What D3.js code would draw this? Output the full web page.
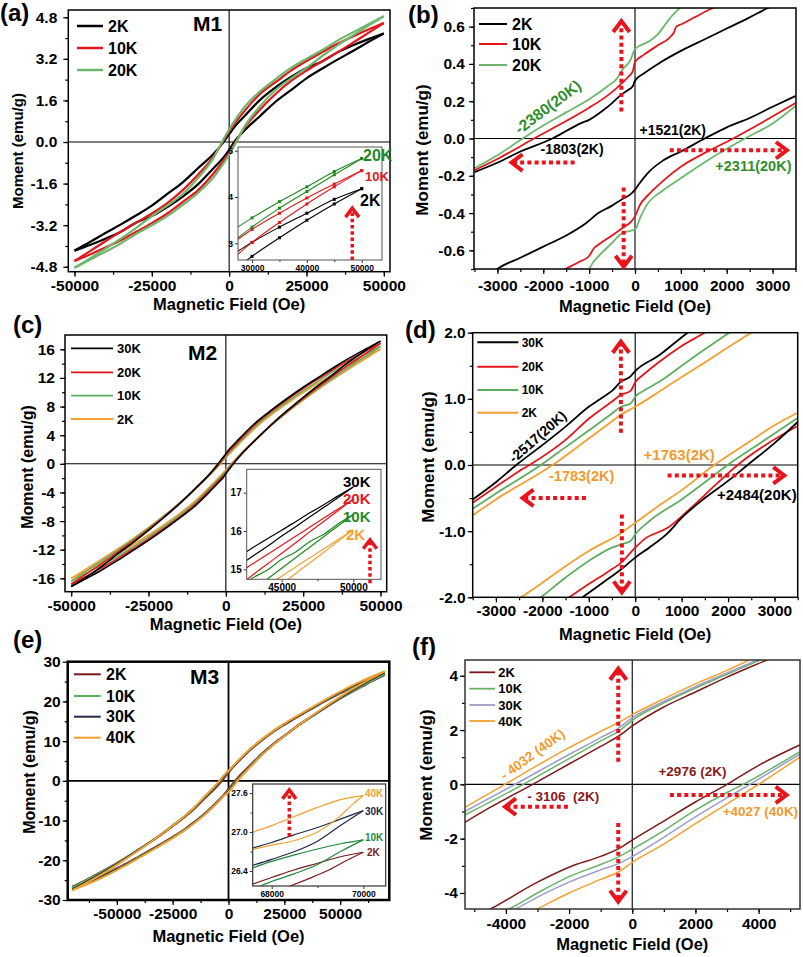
<!DOCTYPE html>
<html><head><meta charset="utf-8">
<script src="https://cdn.jsdelivr.net/npm/d3@7"></script>
<style>
body{margin:0;background:#fff;}
svg text{font-family:"Liberation Sans",Arial,Helvetica,sans-serif;font-weight:bold;white-space:pre;}
</style></head><body>
<script>
// ================= DATA =================
// ---- (a) M1 full loops: field grid + upper (descending) / lower (ascending) branches
const aH = [-50000,-45000,-40000,-35000,-30000,-25000,-20000,-15000,-10000,-5000,-2000,0,2000,5000,10000,15000,20000,25000,30000,35000,40000,45000,50000];
const a2K_up  = [-4.18,-3.85,-3.5,-3.17,-2.82,-2.45,-2.0,-1.55,-1.0,-0.45,-0.03,0.30,0.62,1.0,1.62,2.1,2.5,2.85,3.1,3.45,3.72,3.96,4.18];
const a2K_lo  = [-4.18,-3.96,-3.72,-3.45,-3.1,-2.85,-2.5,-2.1,-1.62,-1.0,-0.62,-0.30,0.06,0.45,1.0,1.55,2.0,2.45,2.82,3.17,3.5,3.85,4.18];
const a10K_up = [-4.58,-4.2,-3.82,-3.45,-3.1,-2.75,-2.35,-1.85,-1.25,-0.55,0.02,0.42,0.75,1.2,1.85,2.3,2.75,3.12,3.45,3.78,4.06,4.33,4.58];
const a10K_lo = [-4.58,-4.33,-4.06,-3.78,-3.45,-3.12,-2.75,-2.3,-1.85,-1.2,-0.75,-0.42,-0.02,0.55,1.25,1.85,2.35,2.75,3.1,3.45,3.82,4.2,4.58];
const a20K_up = [-4.84,-4.48,-4.1,-3.72,-3.3,-2.85,-2.45,-2.0,-1.38,-0.6,0.07,0.48,0.85,1.35,1.95,2.42,2.85,3.2,3.53,3.9,4.22,4.53,4.84];
const a20K_lo = [-4.84,-4.53,-4.22,-3.9,-3.53,-3.2,-2.85,-2.42,-1.95,-1.35,-0.85,-0.49,-0.07,0.6,1.38,2.0,2.45,2.85,3.3,3.72,4.1,4.48,4.84];
const aNames = ['2K','10K','20K'];
const aXTicks = [-50000,-25000,0,25000,50000];
const aYTicks = [-4.8,-3.2,-1.6,0,1.6,3.2,4.8];
// (a) inset
const aInH = [27000,30000,35000,40000,45000,50000];
const aIn2K_up  = [2.8,3.02,3.35,3.65,3.95,4.18];
const aIn2K_lo  = [2.45,2.72,3.12,3.5,3.85,4.18];
const aIn10K_up = [3.05,3.3,3.65,3.98,4.28,4.57];
const aIn10K_lo = [2.72,3.02,3.45,3.85,4.22,4.57];
const aIn20K_up = [3.32,3.55,3.9,4.22,4.55,4.83];
const aIn20K_lo = [3.08,3.35,3.76,4.12,4.48,4.83];
const aInXTicks = [30000,40000,50000];
const aInYTicks = [3,4,5];

// ---- (b) M1 low-field zoom: [field, moment]
const b2K_up = [[-3500,-0.18],[-3000,-0.13],[-2500,-0.07],[-1803,0],[-1500,0.04],[-1200,0.08],[-1000,0.1],[-700,0.15],[-500,0.19],[-300,0.235],[-150,0.26],[-50,0.28],[0,0.31],[200,0.35],[500,0.4],[1000,0.47],[1500,0.53],[2000,0.59],[2500,0.65],[2900,0.7],[3100,0.72]];
const b2K_lo = [[-3100,-0.72],[-3000,-0.7],[-2500,-0.64],[-2000,-0.58],[-1500,-0.52],[-1062,-0.453],[-800,-0.4],[-500,-0.36],[-273,-0.324],[-100,-0.3],[0,-0.274],[100,-0.24],[284,-0.184],[600,-0.12],[1013,-0.068],[1521,0],[2000,0.06],[2500,0.11],[3000,0.17],[3500,0.228]];
const b10K_up = [[-3500,-0.17],[-3000,-0.11],[-2200,0],[-1600,0.08],[-1000,0.165],[-600,0.23],[-400,0.27],[-273,0.3],[-150,0.33],[-50,0.36],[0,0.41],[200,0.45],[500,0.5],[750,0.54],[850,0.57],[900,0.6],[1013,0.613],[1300,0.65],[1700,0.7],[1800,0.71]];
const b10K_lo = [[-1600,-0.71],[-1520,-0.7],[-1200,-0.66],[-1000,-0.63],[-900,-0.59],[-800,-0.57],[-500,-0.52],[-273,-0.48],[-100,-0.45],[0,-0.418],[100,-0.36],[300,-0.3],[600,-0.23],[1013,-0.149],[1500,-0.08],[2140,0],[2800,0.09],[3500,0.19]];
const b20K_up = [[-3500,-0.16],[-3000,-0.09],[-2450,0],[-2000,0.07],[-1500,0.14],[-1000,0.21],[-600,0.28],[-400,0.32],[-273,0.37],[-100,0.42],[0,0.48],[300,0.52],[500,0.56],[685,0.62],[850,0.67],[976,0.7],[1050,0.72]];
const b20K_lo = [[-1080,-0.72],[-1004,-0.7],[-900,-0.66],[-790,-0.63],[-500,-0.56],[-273,-0.506],[-100,-0.495],[0,-0.489],[120,-0.42],[247,-0.36],[600,-0.28],[1013,-0.211],[1500,-0.13],[2395,0],[3000,0.08],[3500,0.174]];
const bXTicks = [-3000,-2000,-1000,0,1000,2000,3000];
const bYTicks = [-0.6,-0.4,-0.2,0,0.2,0.4,0.6];

// ---- (c) M2 full loops
const cH = [-50000,-45000,-40000,-35000,-30000,-25000,-20000,-15000,-10000,-5000,-2000,-1000,0,1000,2000,5000,10000,15000,20000,25000,30000,35000,40000,45000,50000];
const c30K_up = [-17.15,-15.8,-14.3,-12.6,-11.0,-9.3,-7.5,-5.6,-3.5,-1.3,0.3,0.85,1.42,2.0,2.45,3.8,5.9,7.6,9.2,10.7,12.1,13.5,14.8,16.0,17.15];
const c30K_lo = [-17.15,-16.0,-14.8,-13.5,-12.1,-10.7,-9.2,-7.6,-5.9,-3.8,-2.45,-2.0,-1.4,-0.8,-0.25,1.3,3.5,5.6,7.5,9.3,11.0,12.6,14.3,15.8,17.15];
const c20K_up = [-16.83,-15.35,-13.9,-12.35,-10.8,-9.15,-7.4,-5.55,-3.5,-1.35,0.12,0.7,1.25,1.75,2.2,3.55,5.7,7.45,9.0,10.5,11.9,13.25,14.5,15.7,16.83];
const c20K_lo = [-16.83,-15.7,-14.5,-13.25,-11.9,-10.5,-9.0,-7.45,-5.7,-3.55,-2.2,-1.75,-1.25,-0.68,-0.12,1.35,3.5,5.55,7.4,9.15,10.8,12.35,13.9,15.35,16.83];
const c10K_up = [-16.43,-14.95,-13.55,-12.1,-10.6,-9.0,-7.3,-5.5,-3.55,-1.45,0.0,0.52,1.03,1.5,1.98,3.3,5.45,7.2,8.75,10.2,11.6,12.95,14.15,15.3,16.43];
const c10K_lo = [-16.43,-15.3,-14.15,-12.95,-11.6,-10.2,-8.75,-7.2,-5.45,-3.3,-1.98,-1.5,-1.05,-0.52,0.0,1.45,3.55,5.5,7.3,9.0,10.6,12.1,13.55,14.95,16.43];
const c2K_up  = [-16.03,-14.65,-13.3,-11.9,-10.45,-8.9,-7.25,-5.5,-3.6,-1.5,-0.12,0.38,0.88,1.33,1.78,3.1,5.2,6.95,8.5,9.95,11.3,12.6,13.8,14.95,16.03];
const c2K_lo  = [-16.03,-14.95,-13.8,-12.6,-11.3,-9.95,-8.5,-6.95,-5.2,-3.1,-1.78,-1.33,-0.875,-0.38,0.12,1.5,3.6,5.5,7.25,8.9,10.45,11.9,13.3,14.65,16.03];
const cNames = ['30K','20K','10K','2K'];
const cXTicks = [-50000,-25000,0,25000,50000];
const cYTicks = [-16,-12,-8,-4,0,4,8,12,16];
// (c) inset
const cInH = [42000,43000,44000,45000,46000,47000,48000,49000,50000];
const cIn30K_up = [15.33,15.57,15.8,16.02,16.25,16.48,16.7,16.93,17.15];
const cIn30K_lo = [15.1,15.35,15.6,15.87,16.12,16.38,16.63,16.89,17.15];
const cIn20K_up = [14.9,15.15,15.39,15.63,15.87,16.11,16.35,16.59,16.83];
const cIn20K_lo = [14.57,14.86,15.14,15.42,15.7,15.99,16.27,16.55,16.83];
const cIn10K_up = [14.52,14.78,14.98,15.26,15.46,15.73,15.93,16.2,16.43];
const cIn10K_lo = [14.2,14.47,14.75,15.03,15.31,15.59,15.87,16.15,16.43];
const cIn2K_up  = [14.1,14.34,14.58,14.82,15.07,15.31,15.55,15.79,16.03];
const cIn2K_lo  = [13.76,14.04,14.33,14.61,14.9,15.18,15.46,15.75,16.03];
const cInXTicks = [45000,50000];
const cInYTicks = [15,16,17];

// ---- (d) M2 low-field zoom
const d30K_up = [[-3500,-0.52],[-3000,-0.26],[-2560,0],[-2000,0.3],[-1500,0.58],[-1000,0.88],[-600,1.07],[-500,1.12],[-308,1.26],[-100,1.34],[0,1.42],[500,1.65],[1130,2.0],[1250,2.06]];
const d30K_lo = [[-1250,-2.06],[-1134,-2.0],[-700,-1.78],[-308,-1.58],[0,-1.4],[300,-1.25],[700,-1.03],[1000,-0.8],[1500,-0.5],[2000,-0.24],[2420,0],[3000,0.33],[3500,0.65]];
const d20K_up = [[-3500,-0.57],[-3000,-0.33],[-2400,-0.05],[-2280,0],[-1500,0.38],[-1000,0.7],[-500,0.96],[-308,1.06],[-100,1.12],[0,1.25],[200,1.38],[500,1.55],[1000,1.8],[1490,2.0],[1600,2.05]];
const d20K_lo = [[-1550,-2.06],[-1422,-2.0],[-1000,-1.8],[-600,-1.62],[-308,-1.48],[0,-1.25],[200,-1.12],[700,-0.95],[1200,-0.65],[1700,-0.32],[2207,0],[2800,0.3],[3500,0.59]];
const d10K_up = [[-3500,-0.66],[-3000,-0.43],[-2032,0],[-1500,0.27],[-1000,0.52],[-500,0.78],[-308,0.88],[-100,0.93],[0,1.03],[200,1.13],[500,1.25],[1000,1.5],[1500,1.75],[2026,2.0],[2150,2.06]];
const d10K_lo = [[-2150,-2.06],[-2032,-2.0],[-1500,-1.7],[-1000,-1.45],[-500,-1.25],[-308,-1.2],[-100,-1.15],[0,-1.05],[300,-0.85],[1000,-0.52],[1500,-0.26],[1991,0],[2800,0.38],[3500,0.71]];
const d2K_up  = [[-3500,-0.76],[-3000,-0.52],[-1780,0],[-1000,0.4],[-500,0.66],[-308,0.76],[0,0.88],[500,1.1],[1000,1.33],[1500,1.55],[2000,1.78],[2494,2.0],[2600,2.05]];
const d2K_lo  = [[-2600,-2.06],[-2463,-2.0],[-2000,-1.78],[-1500,-1.53],[-1000,-1.3],[-308,-1.03],[0,-0.875],[500,-0.62],[1000,-0.38],[1703,0],[2500,0.37],[3000,0.6],[3500,0.79]];
const dYTicks = [-2,-1,0,1,2];

// ---- (e) M3 full loops
const eH = [-70000,-65000,-60000,-55000,-50000,-45000,-40000,-35000,-30000,-25000,-20000,-15000,-10000,-5000,-2000,0,2000,5000,10000,15000,20000,25000,30000,35000,40000,45000,50000,55000,60000,65000,70000];
const e2K_up  = [-26.7,-25.3,-23.8,-22.3,-20.7,-19.0,-17.2,-15.4,-13.5,-11.4,-9.3,-6.9,-4.1,-1.3,0.65,2.1,3.4,5.2,7.9,10.2,12.3,14.1,15.8,17.4,19.0,20.6,22.0,23.4,24.6,25.7,26.7];
const e2K_lo  = [-26.7,-25.7,-24.6,-23.4,-22.0,-20.6,-19.0,-17.4,-15.8,-14.1,-12.3,-10.2,-7.9,-5.2,-3.4,-2.05,-0.65,1.3,4.1,6.9,9.3,11.4,13.5,15.4,17.2,19.0,20.7,22.3,23.8,25.3,26.7];
const e10K_up = [-26.88,-25.45,-23.95,-22.4,-20.75,-19.0,-17.2,-15.35,-13.4,-11.3,-9.15,-6.7,-3.85,-0.95,0.95,2.36,3.55,5.35,8.0,10.3,12.4,14.2,15.9,17.5,19.1,20.7,22.1,23.5,24.75,25.85,26.88];
const e10K_lo = [-26.88,-25.85,-24.75,-23.5,-22.1,-20.7,-19.1,-17.5,-15.9,-14.2,-12.4,-10.3,-8.0,-5.35,-3.55,-2.39,-0.95,0.95,3.85,6.7,9.15,11.3,13.4,15.35,17.2,19.0,20.75,22.4,23.95,25.45,26.88];
const e30K_up = [-27.33,-25.85,-24.3,-22.65,-20.95,-19.15,-17.3,-15.4,-13.4,-11.3,-9.1,-6.6,-3.7,-0.8,1.2,2.45,3.6,5.4,8.1,10.4,12.5,14.3,16.0,17.6,19.2,20.8,22.25,23.7,25.0,26.2,27.33];
const e30K_lo = [-27.33,-26.2,-25.0,-23.7,-22.25,-20.8,-19.2,-17.6,-16.0,-14.3,-12.5,-10.4,-8.1,-5.4,-3.6,-2.66,-1.2,0.8,3.7,6.6,9.1,11.3,13.4,15.4,17.3,19.15,20.95,22.65,24.3,25.85,27.33];
const e40K_up = [-27.56,-26.1,-24.55,-22.9,-21.15,-19.3,-17.4,-15.45,-13.4,-11.3,-9.05,-6.5,-3.6,-0.65,1.45,2.57,3.7,5.5,8.2,10.5,12.6,14.4,16.1,17.75,19.35,20.95,22.45,23.9,25.25,26.45,27.56];
const e40K_lo = [-27.56,-26.45,-25.25,-23.9,-22.45,-20.95,-19.35,-17.75,-16.1,-14.4,-12.6,-10.5,-8.2,-5.5,-3.7,-2.87,-1.45,0.65,3.6,6.5,9.05,11.3,13.4,15.45,17.4,19.3,21.15,22.9,24.55,26.1,27.56];
const eNames = ['2K','10K','30K','40K'];
const eXTicks = [-50000,-25000,0,25000,50000];
const eYTicks = [-30,-20,-10,0,10,20,30];
// (e) inset [field, moment]
const eIn40K_up = [[67500,26.98],[68000,27.1],[68500,27.24],[69000,27.38],[69500,27.5],[70000,27.56]];
const eIn40K_lo = [[67500,26.72],[68000,26.8],[68500,26.87],[69000,27.0],[69500,27.25],[69800,27.45],[70000,27.56]];
const eIn30K_up = [[67500,26.74],[68000,26.84],[68500,26.96],[69000,27.07],[69500,27.2],[70000,27.33]];
const eIn30K_lo = [[67500,26.47],[68000,26.58],[68500,26.7],[69000,26.86],[69500,27.1],[70000,27.33]];
const eIn10K_up = [[67500,26.43],[68000,26.55],[68500,26.65],[69000,26.74],[69500,26.82],[70000,26.88]];
const eIn10K_lo = [[67750,26.17],[68000,26.24],[68500,26.36],[69000,26.5],[69500,26.7],[70000,26.88]];
const eIn2K_up  = [[67500,26.18],[68000,26.3],[68500,26.42],[69000,26.52],[69500,26.62],[70000,26.69]];
const eIn2K_lo  = [[68400,26.17],[68800,26.28],[69200,26.4],[69600,26.55],[70000,26.69]];
const eInXTicks = [68000,70000];
const eInYTicks = [26.4,27.0,27.6];

// ---- (f) M3 low-field zoom
const f2K_up  = [[-5300,-1.4],[-4500,-0.85],[-3150,0],[-2000,0.75],[-1000,1.4],[-400,1.8],[0,2.15],[1000,2.85],[2000,3.4],[3000,3.95],[4300,4.6],[4500,4.7]];
const f2K_lo  = [[-4700,-4.72],[-4500,-4.6],[-3000,-3.6],[-2000,-3.05],[-1000,-2.65],[-400,-2.35],[0,-2.05],[1000,-1.35],[2000,-0.65],[3000,0],[4000,0.7],[5300,1.45]];
const f10K_up = [[-5300,-1.13],[-3450,0],[-2000,0.95],[-1000,1.6],[-400,1.98],[0,2.36],[1000,3.0],[2000,3.55],[3000,4.05],[4090,4.6],[4300,4.7]];
const f10K_lo = [[-4100,-4.7],[-3920,-4.6],[-3000,-4.0],[-2000,-3.4],[-1000,-2.95],[-400,-2.65],[0,-2.39],[1000,-1.7],[2000,-0.95],[3000,-0.3],[3510,0],[5300,1.2]];
const f30K_up = [[-5300,-1.0],[-3710,0],[-2000,1.1],[-1000,1.72],[-400,2.1],[0,2.45],[1000,3.05],[2000,3.6],[3000,4.1],[4000,4.6],[4200,4.7]];
const f30K_lo = [[-3900,-4.7],[-3710,-4.6],[-3000,-4.15],[-2000,-3.6],[-1000,-3.15],[-400,-2.9],[0,-2.66],[1000,-1.95],[2000,-1.2],[3000,-0.5],[3725,0],[5300,1.11]];
const f40K_up = [[-5300,-0.85],[-4030,0],[-3000,0.7],[-2000,1.35],[-1000,1.95],[-400,2.3],[0,2.57],[1000,3.15],[2000,3.7],[3000,4.2],[3730,4.6],[3900,4.7]];
const f40K_lo = [[-3200,-4.7],[-3025,-4.6],[-2000,-4.0],[-1000,-3.5],[-400,-3.2],[0,-2.87],[1000,-2.2],[2000,-1.45],[3000,-0.72],[4000,0],[5300,1.0]];
const fXTicks = [-4000,-2000,0,2000,4000];
const fYTicks = [-4,-2,0,2,4];

// ================= STYLE =================
const RED = '#e8141c';
const colA = ['#000000','#e3171b','#6cb76c'];
const colAIn = ['#000000','#e3171b','#1f8a1f'];
const colC = ['#000000','#e3171b','#5fae5f','#f3a033'];
const colCIn = ['#000000','#e3171b','#1f8a1f','#f3a033'];
const colE = ['#7a1a1a','#5fae5f','#25284a','#f0a030'];
const colEIn = ['#7a1a1a','#1f8a3a','#25284a','#f0a030'];
const colF = ['#7a1a1a','#66b366','#9d9dc9','#f3a033'];
const GREEN_T = '#2f8f2f', ORANGE_T = '#f29a2b', BROWN_T = '#8b1a1a';

// ================= DRAW =================
const svg = d3.select('body').append('svg').attr('width',803).attr('height',957);
svg.append('rect').attr('width',803).attr('height',957).attr('fill','#fff');
const defs = svg.append('defs');
const zip = (hs, ms) => hs.map((h,i)=>[h, ms[i]]);
const f1 = d => d.toFixed(1);
const fI = d => String(d);

function makePanel(c){
  const x = d3.scaleLinear().domain(c.xDom).range([c.L,c.R]);
  const y = d3.scaleLinear().domain(c.yDom).range([c.B,c.T]);
  const g = svg.append('g');
  if (c.fill) g.append('rect').attr('x',c.L).attr('y',c.T).attr('width',c.R-c.L).attr('height',c.B-c.T).attr('fill','#fff');
  defs.append('clipPath').attr('id','clip-'+c.id).append('rect')
    .attr('x',c.L).attr('y',c.T).attr('width',c.R-c.L).attr('height',c.B-c.T);
  const maj = c.majLen ?? 5, mnr = c.minLen ?? 3, tw = c.tickW ?? 1.2;
  const style = s => {
    s.select('.domain').remove();
    s.attr('font-family',null).attr('font-size',null);
    s.selectAll('line').attr('stroke','#000').attr('stroke-width',tw);
    s.selectAll('text').attr('font-size',c.tickFs).attr('fill','#000');
  };
  if (c.xMinor) g.append('g').attr('transform',`translate(0,${c.B})`)
    .call(d3.axisBottom(x).tickValues(c.xMinor).tickSize(mnr).tickFormat('')).call(style);
  g.append('g').attr('transform',`translate(0,${c.B})`)
    .call(d3.axisBottom(x).tickValues(c.xTicks).tickSize(maj).tickPadding(c.xPad).tickFormat(c.xFmt)).call(style);
  if (c.yMinor) g.append('g').attr('transform',`translate(${c.L},0)`)
    .call(d3.axisLeft(y).tickValues(c.yMinor).tickSize(mnr).tickFormat('')).call(style);
  g.append('g').attr('transform',`translate(${c.L},0)`)
    .call(d3.axisLeft(y).tickValues(c.yTicks).tickSize(maj).tickPadding(c.yPad).tickFormat(c.yFmt)).call(style);
  if (c.zero) {
    g.append('line').attr('x1',x(0)).attr('x2',x(0)).attr('y1',c.T).attr('y2',c.B).attr('stroke','#000').attr('stroke-width',c.zeroW);
    g.append('line').attr('x1',c.L).attr('x2',c.R).attr('y1',y(0)).attr('y2',y(0)).attr('stroke','#000').attr('stroke-width',c.zeroW);
  }
  const plot = g.append('g').attr('clip-path',`url(#clip-${c.id})`);
  const top = g.append('g');
  top.append('rect').attr('x',c.L).attr('y',c.T).attr('width',c.R-c.L).attr('height',c.B-c.T)
    .attr('fill','none').attr('stroke',c.frameC || '#000').attr('stroke-width',c.frameW);
  if (c.xTitle) top.append('text').attr('x',x(0)).attr('y',c.xTitleY).attr('text-anchor','middle')
    .attr('font-size',16.5).text('Magnetic Field (Oe)');
  if (c.yTitle) top.append('text').attr('transform',`translate(${c.yTitleX},${c.yTitleY}) rotate(-90)`)
    .attr('text-anchor','middle').attr('dominant-baseline','central').attr('font-size',c.yTitleFs).text('Moment (emu/g)');
  return {x,y,g,plot,top};
}
function drawLine(P, pts, color, w){
  P.plot.append('path').datum(pts)
    .attr('d', d3.line().x(d=>P.x(d[0])).y(d=>P.y(d[1])).curve(d3.curveMonotoneX))
    .attr('fill','none').attr('stroke',color).attr('stroke-width',w).attr('stroke-linejoin','round');
}
function legend(items, colors, x1, x2, tx, ys, fs, lw){
  const g = svg.append('g');
  items.forEach((n,i)=>{
    g.append('line').attr('x1',x1).attr('x2',x2).attr('y1',ys[i]).attr('y2',ys[i]).attr('stroke',colors[i]).attr('stroke-width',lw);
    g.append('text').attr('x',tx).attr('y',ys[i]).attr('dy','0.36em').attr('font-size',fs).attr('fill','#000').text(n);
  });
}
function label(x,y,s,color,fs,rot,anchor){
  svg.append('text').attr('transform',`translate(${x},${y}) rotate(${rot||0})`)
    .attr('text-anchor',anchor||'middle').attr('dominant-baseline','central')
    .attr('font-size',fs).attr('fill',color).text(s);
}
function arrow(P, h1, m1, h2, m2, w, head){
  const x1=P.x(h1), y1=P.y(m1), x2=P.x(h2), y2=P.y(m2);
  const dx=x2-x1, dy=y2-y1, len=Math.hypot(dx,dy), ux=dx/len, uy=dy/len;
  const g = svg.append('g');
  g.append('line').attr('x1',x1).attr('y1',y1).attr('x2',x2-ux*w*0.8).attr('y2',y2-uy*w*0.8)
    .attr('stroke',RED).attr('stroke-width',w).attr('stroke-dasharray',`${w},${w*0.8}`);
  const bx=x2-ux*head, by=y2-uy*head, px=-uy, py=ux, hw=head*0.75;
  g.append('path').attr('d',`M${bx+px*hw},${by+py*hw}L${x2},${y2}L${bx-px*hw},${by-py*hw}`)
    .attr('fill','none').attr('stroke',RED).attr('stroke-width',w).attr('stroke-linejoin','miter');
}
function panelLabel(x,y,s,fs){ svg.append('text').attr('x',x).attr('y',y).attr('font-size',fs||24).attr('fill','#000').text(s); }

// ---------- (a) ----------
const PA = makePanel({id:'a',L:68.3,R:390,T:10,B:271.7,xDom:[-52000,52000],yDom:[-4.99,5.08],
  xTicks:aXTicks,yTicks:aYTicks,xMinor:d3.range(-50000,50001,12500),yMinor:d3.range(-4.8,4.81,0.8),
  xFmt:fI,yFmt:f1,tickFs:15.5,xPad:3,yPad:6,frameW:1.5,zero:true,zeroW:1.1,
  xTitle:true,xTitleY:310,yTitle:true,yTitleX:17.5,yTitleY:151,yTitleFs:15});
[[a2K_up,a2K_lo],[a10K_up,a10K_lo],[a20K_up,a20K_lo]].forEach((br,i)=>{
  drawLine(PA, zip(aH,br[0]), colA[i], 2.2); drawLine(PA, zip(aH,br[1]), colA[i], 2.2);
});
legend(aNames, colA, 77, 103, 108, [26,48,70], 16, 2.5);
svg.append('text').attr('x',193).attr('y',31).attr('font-size',21).attr('fill','#000').text('M1');
panelLabel(0,21,'(a)',24);
// inset a
const PAi = makePanel({id:'ai',L:238,R:382,T:147,B:260,xDom:[27440,53700],yDom:[2.64,5.08],
  xTicks:aInXTicks,yTicks:aInYTicks,xMinor:[35000,45000],yMinor:null,xFmt:fI,yFmt:fI,tickFs:8.5,
  xPad:2,yPad:2,majLen:3,minLen:2,tickW:0.8,frameW:1,frameC:'#555',fill:true});
[[aIn2K_up,aIn2K_lo],[aIn10K_up,aIn10K_lo],[aIn20K_up,aIn20K_lo]].forEach((br,i)=>{
  [br[0],br[1]].forEach(arr=>{
    const pts = zip(aInH,arr);
    drawLine(PAi, pts, colAIn[i], 1.1);
    PAi.plot.selectAll(null).data(pts.filter(d=>d[0]>=30000)).enter().append('rect')
      .attr('x',d=>PAi.x(d[0])-1.5).attr('y',d=>PAi.y(d[1])-1.5).attr('width',3).attr('height',3).attr('fill',colAIn[i]);
  });
});
label(363,155,'20K',colAIn[2],16,0,'start');
label(365,176,'10K',colAIn[1],13,0,'start');
label(360,200,'2K',colAIn[0],16,0,'start');
arrow(PAi, 48280, 2.64, 48280, 3.76, 3.5, 9);

// ---------- (b) ----------
const PB = makePanel({id:'b',L:474,R:796,T:8,B:269,xDom:[-3510,3510],yDom:[-0.7,0.7],
  xTicks:bXTicks,yTicks:bYTicks,xMinor:d3.range(-3500,3501,500),yMinor:d3.range(-0.7,0.71,0.1),
  xFmt:fI,yFmt:f1,tickFs:15.5,xPad:6,yPad:4,frameW:1.5,zero:true,zeroW:1.1,
  xTitle:true,xTitleY:312,yTitle:true,yTitleX:422.5,yTitleY:150,yTitleFs:17});
[[b2K_up,b2K_lo],[b10K_up,b10K_lo],[b20K_up,b20K_lo]].forEach((br,i)=>{
  drawLine(PB, br[0], colA[i], 1.8); drawLine(PB, br[1], colA[i], 1.8);
});
legend(aNames, colA, 479, 507, 512, [24,44,65], 16, 2);
panelLabel(408,23,'(b)',24);
label(PB.x(-1900),PB.y(0.17),'-2380(20K)',GREEN_T,15.5,-37);
label(PB.x(823),PB.y(0.048),'+1521(2K)','#000',14);
label(PB.x(-1371),PB.y(-0.059),'-1803(2K)','#000',14);
label(PB.x(2581),PB.y(-0.15),'+2311(20K)',GREEN_T,14.5);
arrow(PB,-297,0.145,-297,0.63,4,11);
arrow(PB,-247,-0.263,-247,-0.688,4,11);
arrow(PB,-1317,-0.129,-2692,-0.129,4,11);
arrow(PB,758,-0.063,3312,-0.063,4,11);

// ---------- (c) ----------
const PC = makePanel({id:'c',L:65,R:386.7,T:335,B:591.7,xDom:[-52000,52000],yDom:[-17.87,18.0],
  xTicks:cXTicks,yTicks:cYTicks,xMinor:d3.range(-50000,50001,12500),yMinor:d3.range(-16,17,2),
  xFmt:fI,yFmt:fI,tickFs:15.5,xPad:3,yPad:5,frameW:1.5,zero:true,zeroW:1.1,
  xTitle:true,xTitleY:630,yTitle:true,yTitleX:27.5,yTitleY:467,yTitleFs:16});
const cBr = [[c30K_up,c30K_lo],[c20K_up,c20K_lo],[c10K_up,c10K_lo],[c2K_up,c2K_lo]];
[3,2,1,0].forEach(i=>{ drawLine(PC, zip(cH,cBr[i][0]), colC[i], 1.6); drawLine(PC, zip(cH,cBr[i][1]), colC[i], 1.6); });
legend(cNames, colC, 71, 113, 117, [348.3,372.3,395.7,419], 13, 1.8);
svg.append('text').attr('x',188).attr('y',360).attr('font-size',21).attr('fill','#000').text('M2');
panelLabel(13,333,'(c)',24);
const PCi = makePanel({id:'ci',L:246.7,R:381,T:469.3,B:579.3,xDom:[42556,51934],yDom:[14.74,17.61],
  xTicks:cInXTicks,yTicks:cInYTicks,xMinor:[47500],yMinor:null,xFmt:fI,yFmt:fI,tickFs:10,
  xPad:2,yPad:2,majLen:3,minLen:2,tickW:0.8,frameW:1,frameC:'#555',fill:true});
const cInBr = [[cIn30K_up,cIn30K_lo],[cIn20K_up,cIn20K_lo],[cIn10K_up,cIn10K_lo],[cIn2K_up,cIn2K_lo]];
cInBr.forEach((br,i)=>{ drawLine(PCi, zip(cInH,br[0]), colCIn[i], 1.2); drawLine(PCi, zip(cInH,br[1]), colCIn[i], 1.2); });
label(343,481.7,'30K',colCIn[0],15,0,'start');
label(343,498,'20K',colCIn[1],15,0,'start');
label(343,516.7,'10K',colCIn[2],15,0,'start');
label(346,534,'2K',colCIn[3],15,0,'start');
arrow(PCi, 51166, 14.64, 51166, 15.77, 3.5, 9);

// ---------- (d) ----------
const PD = makePanel({id:'d',L:472.7,R:797.7,T:332.7,B:597.3,xDom:[-3500,3500],yDom:[-2,2],
  xTicks:bXTicks,yTicks:dYTicks,xMinor:d3.range(-3500,3501,500),yMinor:d3.range(-2,2.01,0.5),
  xFmt:fI,yFmt:f1,tickFs:15.5,xPad:3,yPad:2,frameW:1.5,zero:true,zeroW:1.1,
  xTitle:true,xTitleY:640,yTitle:true,yTitleX:428,yTitleY:457,yTitleFs:17});
const dBr = [[d30K_up,d30K_lo],[d20K_up,d20K_lo],[d10K_up,d10K_lo],[d2K_up,d2K_lo]];
[3,2,1,0].forEach(i=>{ drawLine(PD, dBr[i][0], colC[i], 1.8); drawLine(PD, dBr[i][1], colC[i], 1.8); });
legend(cNames, colC, 477.3, 518.3, 521.7, [342.3,366.7,390,412.7], 12, 2);
panelLabel(405,338,'(d)',24);
label(PD.x(-2103),PD.y(0.43),'-2517(20K)','#000',14,-41);
label(PD.x(948),PD.y(0.155),'+1763(2K)',ORANGE_T,15);
label(PD.x(-1153),PD.y(-0.172),'-1783(2K)',ORANGE_T,14.5);
label(PD.x(2619),PD.y(-0.448),'+2484(20K)','#000',15);
arrow(PD,-308,0.487,-308,1.864,4,11);
arrow(PD,-287,-0.75,-287,-1.926,4,11);
arrow(PD,-1062,-0.498,-2427,-0.498,4,11);
arrow(PD,698,-0.157,3211,-0.157,4,11);

// ---------- (e) ----------
const PE = makePanel({id:'e',L:67.7,R:389.3,T:661.7,B:900,xDom:[-72000,72000],yDom:[-30,30],
  xTicks:eXTicks,yTicks:eYTicks,xMinor:d3.range(-62500,62501,12500),yMinor:d3.range(-25,26,5),
  xFmt:fI,yFmt:fI,tickFs:15.5,xPad:3,yPad:2,frameW:2.5,zero:true,zeroW:1.8,
  xTitle:true,xTitleY:942,yTitle:true,yTitleX:29,yTitleY:772,yTitleFs:16});
const eBr = [[e2K_up,e2K_lo],[e10K_up,e10K_lo],[e30K_up,e30K_lo],[e40K_up,e40K_lo]];
eBr.forEach((br,i)=>{ drawLine(PE, zip(eH,br[0]), colE[i], 2); drawLine(PE, zip(eH,br[1]), colE[i], 2); });
legend(eNames, colE, 74, 100.7, 106, [674.3,696,716.7,737.7], 16, 2);
svg.append('text').attr('x',190).attr('y',684).attr('font-size',21).attr('fill','#000').text('M3');
panelLabel(13,648,'(e)',24);
const PEi = makePanel({id:'ei',L:252.7,R:385.7,T:784,B:886,xDom:[67585,70489],yDom:[26.17,27.74],
  xTicks:eInXTicks,yTicks:eInYTicks,xMinor:[69000],yMinor:[26.7,27.3],xFmt:fI,yFmt:f1,tickFs:8.5,
  xPad:2,yPad:2,majLen:3,minLen:2,tickW:0.8,frameW:1.2,frameC:'#333',fill:true});
[[eIn2K_up,eIn2K_lo],[eIn10K_up,eIn10K_lo],[eIn30K_up,eIn30K_lo],[eIn40K_up,eIn40K_lo]].forEach((br,i)=>{
  drawLine(PEi, br[0], colEIn[i], 1.2); drawLine(PEi, br[1], colEIn[i], 1.2);
});
label(365,793.3,'40K',colEIn[3],10,0,'start');
label(365,811,'30K',colEIn[2],10,0,'start');
label(365,837.7,'10K',colEIn[1],10,0,'start');
label(367,852.7,'2K',colEIn[0],10,0,'start');
arrow(PEi, 68384, 26.93, 68384, 27.65, 3.5, 9);

// ---------- (f) ----------
const PF = makePanel({id:'f',L:465,R:800,T:660,B:909,xDom:[-5294,5310],yDom:[-4.59,4.58],
  xTicks:fXTicks,yTicks:fYTicks,xMinor:d3.range(-5000,5001,1000),yMinor:d3.range(-4,4.1,1),
  xFmt:fI,yFmt:fI,tickFs:15.5,xPad:4,yPad:2,frameW:1.5,frameC:'#333',zero:true,zeroW:1.1,
  xTitle:true,xTitleY:950,yTitle:true,yTitleX:426,yTitleY:775,yTitleFs:17});
const fBr = [[f2K_up,f2K_lo],[f10K_up,f10K_lo],[f30K_up,f30K_lo],[f40K_up,f40K_lo]];
fBr.forEach((br,i)=>{ drawLine(PF, br[0], colF[i], 1.5); drawLine(PF, br[1], colF[i], 1.5); });
legend(eNames, colF, 469.3, 495, 498.3, [672.3,688.7,705,721], 13, 1.8);
panelLabel(412,655,'(f)',24);
label(PF.x(-3158),PF.y(1.1),'- 4032 (40K)',ORANGE_T,13.5,-36);
label(PF.x(1905),PF.y(0.46),'+2976 (2K)',BROWN_T,13.5);
label(PF.x(-2184),PF.y(-0.43),'- 3106  (2K)',BROWN_T,13.5);
label(PF.x(4057),PF.y(-1.0),'+4027 (40K)',ORANGE_T,13.5);
arrow(PF,-443,0.83,-443,4.26,4,11);
arrow(PF,-443,-1.42,-443,-4.32,4,11);
arrow(PF,-2035,-0.82,-4028,-0.82,4,11);
arrow(PF,1193,-0.39,4886,-0.39,4,11);
</script>
</body></html>
